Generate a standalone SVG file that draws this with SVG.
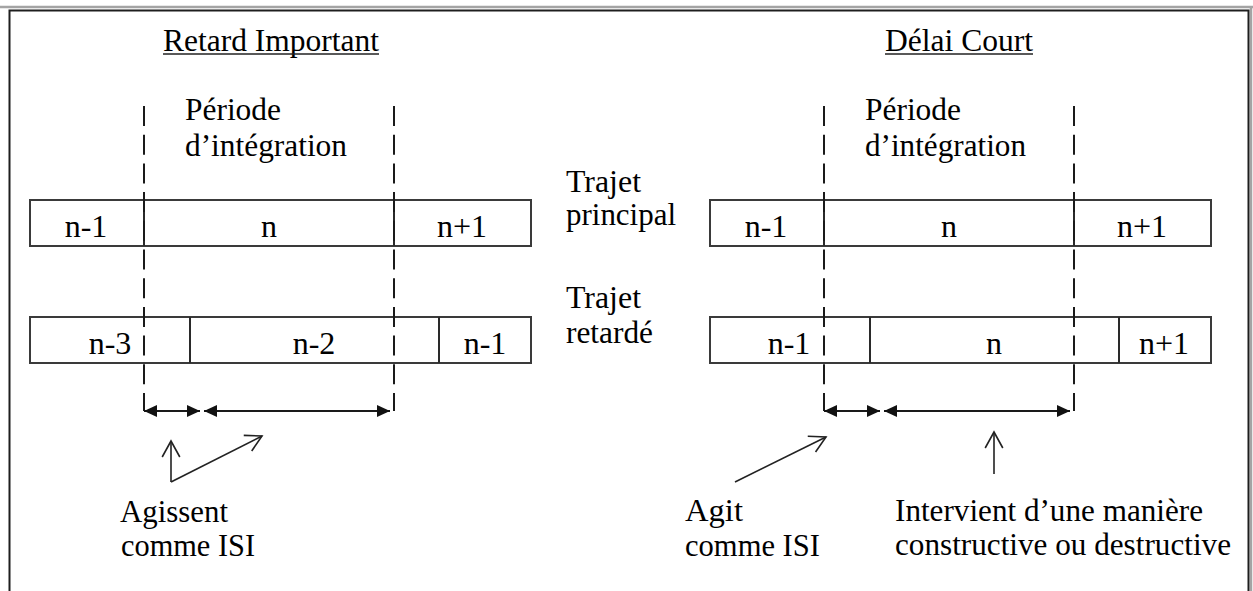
<svg xmlns="http://www.w3.org/2000/svg" width="1253" height="591" viewBox="0 0 1253 591">
  <style>
    text { font-family: "Liberation Serif", "Times New Roman", serif; fill: #000; }
    .lbl { font-size: 30.5px; }
    .seg { font-size: 32px; text-anchor: middle; }
    .box { fill: #fff; stroke: #3a3a3a; stroke-width: 2; }
    .div { stroke: #2a2a2a; stroke-width: 2; }
    .dash { stroke: #1a1a1a; stroke-width: 2; stroke-dasharray: 20 8.7; fill: none; }
    .span { stroke: #1a1a1a; stroke-width: 2; marker-start: url(#solid); marker-end: url(#solid); }
    .ptr { stroke: #222; stroke-width: 1.6; fill: none; marker-end: url(#open); }
    .ul { stroke: #222; stroke-width: 1.6; }
  </style>
  <defs>
    <marker id="solid" markerUnits="userSpaceOnUse" viewBox="-14 -8 16 16" markerWidth="16" markerHeight="16" refX="0" refY="0" orient="auto-start-reverse" overflow="visible">
      <path d="M0,0 L-13,-6 L-13,6 Z" fill="#111"/>
    </marker>
    <marker id="open" markerUnits="userSpaceOnUse" viewBox="-20 -12 24 24" markerWidth="24" markerHeight="24" refX="0" refY="0" orient="auto" overflow="visible">
      <path d="M-16,-8.8 L0,0 L-16,8.8" fill="none" stroke="#222" stroke-width="1.6"/>
    </marker>
  </defs>

  <rect width="1253" height="591" fill="#fff"/>

  <!-- page frame -->
  <g id="frame">
    <line x1="0" y1="7" x2="1253" y2="7" stroke="#a4a4a4" stroke-width="2.5"/>
    <line x1="1251" y1="7" x2="1251" y2="591" stroke="#a4a4a4" stroke-width="2.5"/>
    <path d="M9.5,591 V10.5 H1248.5 V591" fill="none" stroke="#1e1e1e" stroke-width="2"/>
  </g>

  <!-- panel titles -->
  <g id="title-long-delay">
    <text class="lbl" x="163" y="51" textLength="216" lengthAdjust="spacingAndGlyphs">Retard Important</text>
    <line class="ul" x1="163" y1="54" x2="379" y2="54"/>
  </g>
  <g id="title-short-delay">
    <text class="lbl" x="885" y="51" textLength="148" lengthAdjust="spacingAndGlyphs">Délai Court</text>
    <line class="ul" x1="885" y1="54" x2="1033" y2="54"/>
  </g>

  <!-- integration window captions -->
  <g id="window-label-left">
    <text class="lbl" x="185" y="120" textLength="96" lengthAdjust="spacingAndGlyphs">Période</text>
    <text class="lbl" x="185" y="156" textLength="162" lengthAdjust="spacingAndGlyphs">d’intégration</text>
  </g>
  <g id="window-label-right">
    <text class="lbl" x="865" y="120" textLength="96" lengthAdjust="spacingAndGlyphs">Période</text>
    <text class="lbl" x="865" y="156" textLength="161" lengthAdjust="spacingAndGlyphs">d’intégration</text>
  </g>

  <!-- path names -->
  <g id="path-main-label">
    <text class="lbl" x="566" y="192" textLength="75" lengthAdjust="spacingAndGlyphs">Trajet</text>
    <text class="lbl" x="566" y="225" textLength="110" lengthAdjust="spacingAndGlyphs">principal</text>
  </g>
  <g id="path-delayed-label">
    <text class="lbl" x="566" y="308" textLength="75" lengthAdjust="spacingAndGlyphs">Trajet</text>
    <text class="lbl" x="566" y="343" textLength="87" lengthAdjust="spacingAndGlyphs">retardé</text>
  </g>

  <!-- symbol streams: long delay -->
  <g id="long-main">
    <rect class="box" x="30" y="200" width="501" height="46"/>
    <line class="div" x1="144" y1="200" x2="144" y2="246"/>
    <line class="div" x1="394" y1="200" x2="394" y2="246"/>
    <text class="seg" x="86" y="237">n-1</text>
    <text class="seg" x="269" y="237">n</text>
    <text class="seg" x="462" y="237">n+1</text>
  </g>
  <g id="long-delayed">
    <rect class="box" x="30" y="317" width="501" height="46"/>
    <line class="div" x1="190" y1="317" x2="190" y2="363"/>
    <line class="div" x1="439" y1="317" x2="439" y2="363"/>
    <text class="seg" x="110" y="354">n-3</text>
    <text class="seg" x="314" y="354">n-2</text>
    <text class="seg" x="485" y="354">n-1</text>
  </g>

  <!-- symbol streams: short delay -->
  <g id="short-main">
    <rect class="box" x="710" y="200" width="501" height="46"/>
    <line class="div" x1="824" y1="200" x2="824" y2="246"/>
    <line class="div" x1="1074" y1="200" x2="1074" y2="246"/>
    <text class="seg" x="766" y="237">n-1</text>
    <text class="seg" x="949" y="237">n</text>
    <text class="seg" x="1142" y="237">n+1</text>
  </g>
  <g id="short-delayed">
    <rect class="box" x="710" y="317" width="501" height="46"/>
    <line class="div" x1="870" y1="317" x2="870" y2="363"/>
    <line class="div" x1="1119" y1="317" x2="1119" y2="363"/>
    <text class="seg" x="789" y="354">n-1</text>
    <text class="seg" x="994" y="354">n</text>
    <text class="seg" x="1164" y="354">n+1</text>
  </g>

  <!-- captions under the spans -->
  <g id="note-isi-left">
    <text class="lbl" x="120" y="522" textLength="108" lengthAdjust="spacingAndGlyphs">Agissent</text>
    <text class="lbl" x="121" y="556" textLength="134" lengthAdjust="spacingAndGlyphs">comme ISI</text>
  </g>
  <g id="note-isi-right">
    <text class="lbl" x="685" y="521" textLength="58" lengthAdjust="spacingAndGlyphs">Agit</text>
    <text class="lbl" x="685" y="556" textLength="135" lengthAdjust="spacingAndGlyphs">comme ISI</text>
  </g>
  <g id="note-interference">
    <text class="lbl" x="895" y="521" textLength="308" lengthAdjust="spacingAndGlyphs">Intervient d’une manière</text>
    <text class="lbl" x="895" y="555" textLength="336" lengthAdjust="spacingAndGlyphs">constructive ou destructive</text>
  </g>

  <!-- window boundaries, span arrows and pointers -->
  <g id="connectors">
    <line class="dash" x1="144" y1="106" x2="144" y2="411"/>
    <line class="dash" x1="394" y1="106" x2="394" y2="411"/>
    <line class="dash" x1="824" y1="106" x2="824" y2="411"/>
    <line class="dash" x1="1074" y1="106" x2="1074" y2="411"/>

    <line class="span" x1="144" y1="411" x2="200" y2="411"/>
    <line class="span" x1="204" y1="411" x2="390" y2="411"/>
    <line class="span" x1="824" y1="411" x2="880" y2="411"/>
    <line class="span" x1="884" y1="411" x2="1070" y2="411"/>

    <line class="ptr" x1="171" y1="482" x2="171" y2="441"/>
    <line class="ptr" x1="171" y1="482" x2="262" y2="436"/>
    <line class="ptr" x1="735" y1="482" x2="826" y2="437"/>
    <line class="ptr" x1="994" y1="474" x2="994" y2="432"/>
  </g>
</svg>
